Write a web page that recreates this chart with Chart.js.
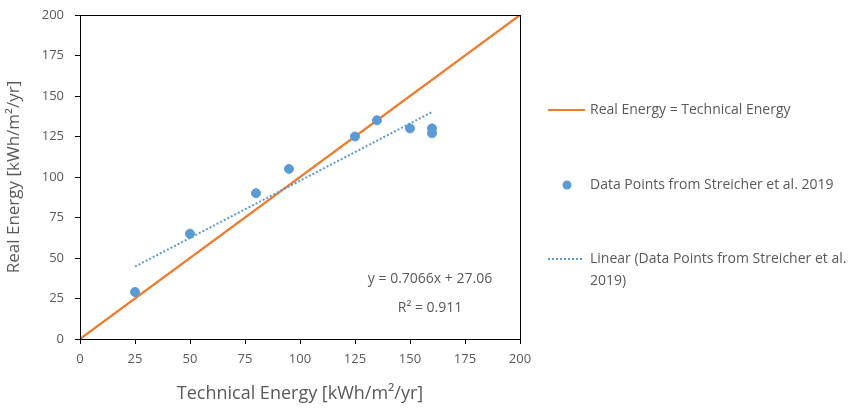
<!DOCTYPE html>
<html>
<head>
<meta charset="utf-8">
<script src="https://cdn.jsdelivr.net/npm/chart.js@4"></script>
<style>
  html, body { margin: 0; padding: 0; background: #fff; }
  #wrap { width: 850px; height: 409px; position: relative; }
</style>
</head>
<body>
<div id="wrap"><canvas id="myChart"></canvas></div>
<script>
const xTicks = [0, 25, 50, 75, 100, 125, 150, 175, 200];
const yTicks = [0, 25, 50, 75, 100, 125, 150, 175, 200];

const identityX = [0, 200];
const identityY = [0, 200];

const pointsX = [25, 50, 80, 95, 125, 135, 150, 160, 160];
const pointsY = [29, 65, 90, 105, 125, 135, 130, 127, 130];

const trendX = [25, 160];
const trendY = [44.7, 140.1];

const legendLabels = ['Real Energy = Technical Energy', 'Data Points from Streicher et al. 2019', 'Linear (Data Points from Streicher et al.', '2019)'];
const equationText = ['y = 0.7066x + 27.06', 'R² = 0.911'];

const orange = '#ed7d31';
const blue = '#5b9bd5';
const grey = '#595959';
const font = '"Open Sans", sans-serif';

const toXY = (xs, ys) => xs.map((x, i) => ({ x: x, y: ys[i] }));

const extras = {
  id: 'extras',
  afterDraw(chart) {
    const c = chart.ctx;
    const a = chart.chartArea;
    c.save();
    // box round the plot
    c.strokeStyle = '#000';
    c.lineWidth = 1;
    c.strokeRect(Math.round(a.left) + 0.5, Math.round(a.top) + 0.5, Math.round(a.right - a.left), Math.round(a.bottom - a.top));

    // equation text
    c.fillStyle = grey;
    c.font = '14px ' + font;
    c.textAlign = 'center';
    c.textBaseline = 'middle';
    c.fillText(equationText[0], 430, 279);
    c.fillText(equationText[1], 430, 308);

    // legend
    c.textAlign = 'left';
    c.lineWidth = 2;
    c.strokeStyle = orange;
    c.beginPath(); c.moveTo(548, 110); c.lineTo(585, 110); c.stroke();
    c.fillText(legendLabels[0], 590, 110);

    c.fillStyle = blue;
    c.beginPath(); c.arc(567, 185, 4.5, 0, Math.PI * 2); c.fill();
    c.fillStyle = grey;
    c.fillText(legendLabels[1], 590, 185);

    c.strokeStyle = blue;
    c.setLineDash([2, 2]);
    c.beginPath(); c.moveTo(548, 259); c.lineTo(583, 259); c.stroke();
    c.setLineDash([]);
    c.fillText(legendLabels[2], 590, 259);
    c.fillText(legendLabels[3], 590, 281);
    c.restore();
  }
};

const ctx = document.getElementById('myChart');
new Chart(ctx, {
  type: 'scatter',
  data: {
    datasets: [
      { label: legendLabels[0], data: toXY(identityX, identityY), showLine: true, borderColor: orange, borderWidth: 2.25, pointRadius: 0, order: 2 },
      { label: legendLabels[1], data: toXY(pointsX, pointsY), backgroundColor: blue, borderColor: blue, pointRadius: 4.5, order: 1 },
      { label: 'Linear', data: toXY(trendX, trendY), showLine: true, borderColor: blue, borderWidth: 2, borderDash: [2, 2], pointRadius: 0, order: 0 }
    ]
  },
  options: {
    responsive: true,
    maintainAspectRatio: false,
    animation: false,
    layout: { padding: { top: 15, right: 330, left: 0, bottom: 0 } },
    plugins: { legend: { display: false }, tooltip: { enabled: false } },
    scales: {
      x: {
        type: 'linear', min: 0, max: 200,
        afterBuildTicks: s => { s.ticks = xTicks.map(v => ({ value: v })); },
        afterFit: s => { s.height = 70; s.paddingLeft = 0; s.paddingRight = 0; },
        grid: { drawOnChartArea: false, tickLength: 5, color: '#000' },
        border: { color: '#000' },
        ticks: { color: grey, font: { family: font, size: 13 }, padding: 7 },
        title: { display: true, text: 'Technical Energy [kWh/m²/yr]', color: grey, font: { family: font, size: 18 }, padding: { top: 6 } }
      },
      y: {
        type: 'linear', min: 0, max: 200,
        afterBuildTicks: s => { s.ticks = yTicks.map(v => ({ value: v })); },
        afterFit: s => { s.width = 80; s.paddingTop = 0; s.paddingBottom = 0; },
        grid: { drawOnChartArea: false, tickLength: 5, color: '#000' },
        border: { color: '#000' },
        ticks: { color: grey, font: { family: font, size: 13 }, padding: 11 },
        title: { display: true, text: 'Real Energy [kWh/m²/yr]', color: grey, font: { family: font, size: 17 }, padding: { bottom: 4 } }
      }
    }
  },
  plugins: [extras]
});
</script>
</body>
</html>
